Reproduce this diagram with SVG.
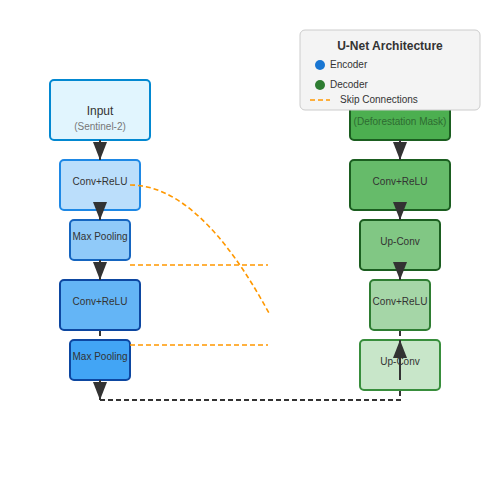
<svg xmlns="http://www.w3.org/2000/svg" width="500" height="500" viewBox="0 0 500 500">
<style>
text{font-family:"Liberation Sans",Arial,sans-serif;fill:#333;text-anchor:middle}
.t{font-size:10px}
.sub{font-size:10px;fill:#777}
.node{stroke-width:2}
.arr{stroke:#333;stroke-width:2;fill:none;marker-end:url(#ah)}
.dash{stroke:#333;stroke-width:2;fill:none;stroke-dasharray:5,3}
.skip{stroke:#ff9800;stroke-width:1.6;fill:none;stroke-dasharray:5,3}
</style>
<defs>
<marker id="ah" viewBox="0 0 18 14" markerUnits="userSpaceOnUse" markerWidth="18" markerHeight="14" refX="18" refY="7" orient="auto">
<path d="M0,0 L18,7 L0,14 z" fill="#333"/>
</marker>
</defs>
<rect width="500" height="500" fill="#fff"/>
<g id="input"><rect class="node" x="50" y="80" width="100" height="60" rx="4" fill="#e1f5fe" stroke="#0288d1"/><text x="100" y="115" style="font-size:12px">Input</text><text class="sub" x="100" y="130">(Sentinel-2)</text></g>
<g id="enc-conv1"><rect class="node" x="60" y="160" width="80" height="50" rx="4" fill="#bbdefb" stroke="#1e88e5"/><text class="t" x="100" y="185">Conv+ReLU</text></g>
<g id="enc-pool1"><rect class="node" x="70" y="220" width="60" height="40" rx="4" fill="#90caf9" stroke="#1565c0"/><text class="t" x="100" y="240">Max Pooling</text></g>
<g id="enc-conv2"><rect class="node" x="60" y="280" width="80" height="50" rx="4" fill="#64b5f6" stroke="#0d47a1"/><text class="t" x="100" y="305">Conv+ReLU</text></g>
<g id="enc-pool2"><rect class="node" x="70" y="340" width="60" height="40" rx="4" fill="#42a5f5" stroke="#0d47a1"/><text class="t" x="100" y="360">Max Pooling</text></g>
<g id="output"><rect class="node" x="350" y="80" width="100" height="60" rx="4" fill="#4caf50" stroke="#1b5e20"/><text x="400" y="106" style="font-size:12px">Output</text><text class="sub" x="400" y="125" style="fill:#2e6b30">(Deforestation Mask)</text></g>
<g id="dec-conv1"><rect class="node" x="350" y="160" width="100" height="50" rx="4" fill="#66bb6a" stroke="#1b5e20"/><text class="t" x="400" y="185">Conv+ReLU</text></g>
<g id="dec-up1"><rect class="node" x="360" y="220" width="80" height="50" rx="4" fill="#81c784" stroke="#1b5e20"/><text class="t" x="400" y="245">Up-Conv</text></g>
<g id="dec-conv2"><rect class="node" x="370" y="280" width="60" height="50" rx="4" fill="#a5d6a7" stroke="#2e7d32"/><text class="t" x="400" y="305">Conv+ReLU</text></g>
<g id="dec-up2"><rect class="node" x="360" y="340" width="80" height="50" rx="4" fill="#c8e6c9" stroke="#388e3c"/><text class="t" x="400" y="365">Up-Conv</text></g>
<g id="connectors">
<line class="arr" x1="100" y1="140" x2="100" y2="160"/>
<line class="arr" x1="100" y1="210" x2="100" y2="220"/>
<line class="arr" x1="100" y1="260" x2="100" y2="280"/>
<line class="dash" x1="100" y1="331" x2="100" y2="337"/>
<line class="arr" x1="100" y1="380" x2="100" y2="400"/>
<path class="dash" d="M100,400 H400 V391"/>
<line class="arr" x1="400" y1="380" x2="400" y2="340"/>
<line class="dash" x1="400" y1="331" x2="400" y2="337"/>
<line class="arr" x1="400" y1="270" x2="400" y2="280"/>
<line class="arr" x1="400" y1="210" x2="400" y2="220"/>
<line class="arr" x1="400" y1="140" x2="400" y2="160"/>
<path class="skip" d="M130,185 Q200,185 270,315"/>
<line class="skip" x1="130" y1="265" x2="268" y2="265"/>
<line class="skip" x1="130" y1="345" x2="268" y2="345"/>
</g>
<g id="legend">
<rect x="300" y="30" width="180" height="80" rx="5" fill="#f4f4f4" stroke="#ccc" stroke-width="1"/>
<text x="390" y="50" style="font-size:12px;font-weight:bold">U-Net Architecture</text>
<circle cx="320" cy="65" r="5" fill="#1976d2"/>
<text x="330" y="68" style="font-size:10px;text-anchor:start">Encoder</text>
<circle cx="320" cy="85" r="5" fill="#2e7d32"/>
<text x="330" y="88" style="font-size:10px;text-anchor:start">Decoder</text>
<line class="skip" x1="310" y1="100" x2="330" y2="100"/>
<text x="340" y="103" style="font-size:10px;text-anchor:start">Skip Connections</text>
</g>
</svg>
